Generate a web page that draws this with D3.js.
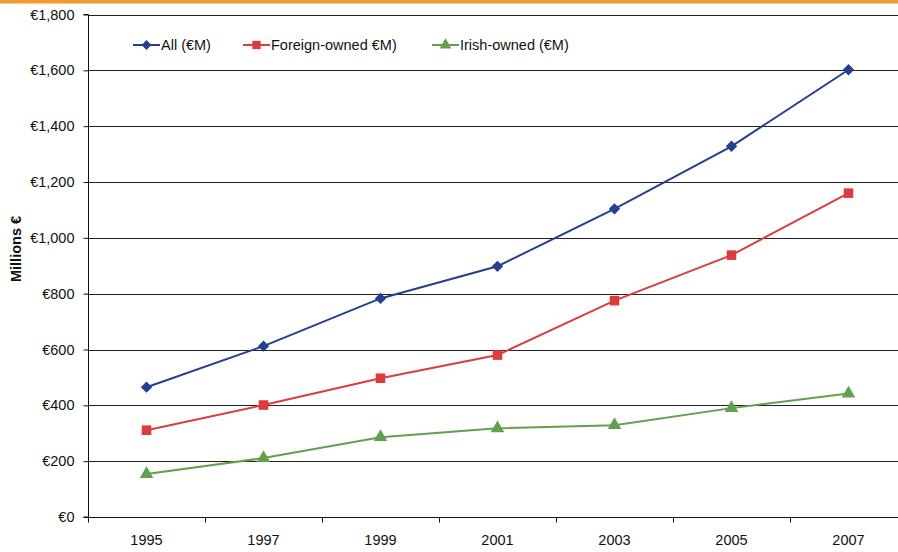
<!DOCTYPE html>
<html>
<head>
<meta charset="utf-8">
<script src="https://cdn.jsdelivr.net/npm/d3@7"></script>
<style>
  html, body { margin: 0; padding: 0; background: #fff; }
  svg { display: block; font-family: "Liberation Sans", Arial, sans-serif; }
</style>
</head>
<body>
<svg id="chart" width="898" height="552"></svg>
<script>
// Years and series values (millions of euro)
const years = ["1995", "1997", "1999", "2001", "2003", "2005", "2007"];
const allValues = [465, 612, 783, 898, 1104, 1328, 1602];
const foreignValues = [311, 401, 497, 580, 775, 938, 1160];
const irishValues = [154, 211, 286, 318, 329, 390, 442];
const yTicks = [0, 200, 400, 600, 800, 1000, 1200, 1400, 1600, 1800];

const seriesNames = ["All (\u20acM)", "Foreign-owned \u20acM)", "Irish-owned (\u20acM)"];
const seriesColors = ["#24408e", "#dc3c3c", "#62a04e"];

// square rotated 45 degrees, as a marker
const diamondSym = {
  draw(ctx, size) {
    const r = Math.sqrt(size / 2);
    ctx.moveTo(0, -r); ctx.lineTo(r, 0); ctx.lineTo(0, r); ctx.lineTo(-r, 0); ctx.closePath();
  }
};
const seriesShapes = [diamondSym, d3.symbolSquare, d3.symbolTriangle];
const seriesSizes = [64, 92, 80];
const series = [allValues, foreignValues, irishValues];

const svg = d3.select("#chart");
const W = 898, H = 552;
const plotLeft = 88, plotTop = 14.5, plotBottom = 517;
const FS = 14.5;

// top accent bar
svg.append("rect").attr("x", 0).attr("y", 0).attr("width", W).attr("height", 3.5).attr("fill", "#f29a2e");

const x = d3.scaleBand().domain(years).range([plotLeft, plotLeft + 117 * years.length]);
const y = d3.scaleLinear().domain([0, 1800]).range([plotBottom, plotTop]);

// horizontal gridlines
svg.append("g").selectAll("line").data(yTicks.filter(d => d > 0)).join("line")
  .attr("x1", plotLeft).attr("x2", W)
  .attr("y1", d => Math.round(y(d)) + 0.5).attr("y2", d => Math.round(y(d)) + 0.5)
  .attr("stroke", "#222").attr("stroke-width", 1);

// y axis
const yAxis = d3.axisLeft(y).tickValues(yTicks).tickSize(5).tickPadding(9)
  .tickFormat(d => "\u20ac" + d3.format(",")(d));
const gy = svg.append("g").attr("transform", `translate(${plotLeft + 0.5},0)`).call(yAxis);
gy.select(".domain").attr("stroke", "#111").attr("d", `M-5,${plotBottom}H0V${plotTop}H-5`);
gy.selectAll(".tick line").attr("stroke", "#111");
gy.selectAll("text").attr("font-size", FS).attr("fill", "#111")
  .attr("font-family", "'Liberation Sans', Arial, sans-serif");

// x axis with ticks between categories
const gx = svg.append("g").attr("transform", `translate(0,${plotBottom + 0.5})`);
gx.append("line").attr("x1", plotLeft).attr("x2", W).attr("y1", 0).attr("y2", 0).attr("stroke", "#111");
gx.selectAll("line.tk").data(d3.range(years.length + 1)).join("line").attr("class", "tk")
  .attr("x1", i => Math.round(plotLeft + x.step() * i) + 0.5).attr("x2", i => Math.round(plotLeft + x.step() * i) + 0.5)
  .attr("y1", 0).attr("y2", 5).attr("stroke", "#111");
gx.selectAll("text").data(years).join("text")
  .attr("x", d => x(d) + x.bandwidth() / 2).attr("y", 27.5)
  .attr("text-anchor", "middle").attr("font-size", FS).attr("fill", "#111").text(d => d);

// y axis title
svg.append("text").attr("transform", `translate(20.5,249) rotate(-90)`)
  .attr("text-anchor", "middle").attr("font-size", FS).attr("font-weight", "bold").attr("fill", "#111")
  .text("Millions \u20ac");

// lines and markers
const line = d3.line().x((d, i) => x(years[i]) + x.bandwidth() / 2).y(d => y(d));
series.forEach((vals, s) => {
  svg.append("path").datum(vals).attr("d", line).attr("fill", "none")
    .attr("stroke", seriesColors[s]).attr("stroke-width", 2);
  svg.append("g").selectAll("path").data(vals).join("path")
    .attr("transform", (d, i) => `translate(${x(years[i]) + x.bandwidth() / 2},${y(d)})`)
    .attr("d", d3.symbol().type(seriesShapes[s]).size(seriesSizes[s]))
    .attr("fill", seriesColors[s]);
});

// legend
const legendX = [133, 243, 432];
const lg = svg.append("g");
seriesNames.forEach((name, s) => {
  const g = lg.append("g").attr("transform", `translate(${legendX[s]},45)`);
  g.append("line").attr("x1", 0).attr("x2", 27).attr("stroke", seriesColors[s]).attr("stroke-width", 2);
  g.append("path").attr("transform", "translate(13.5,0)")
    .attr("d", d3.symbol().type(seriesShapes[s]).size(seriesSizes[s] * 0.75)).attr("fill", seriesColors[s]);
  g.append("text").attr("x", 28).attr("y", 5).attr("font-size", FS).attr("fill", "#111").text(name);
});
</script>
</body>
</html>
